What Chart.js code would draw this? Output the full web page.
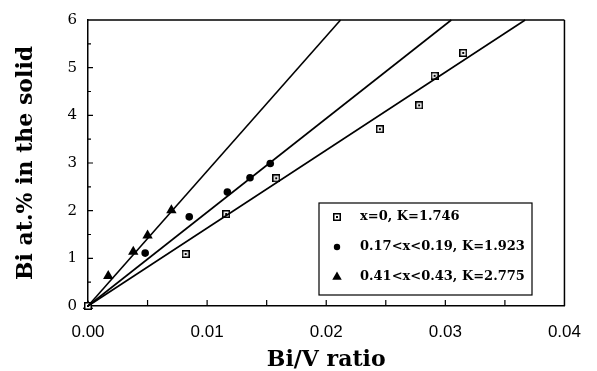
<!DOCTYPE html>
<html><head><meta charset="utf-8">
<script src="https://cdn.jsdelivr.net/npm/chart.js@4"></script>
<style>html,body{margin:0;padding:0;background:#fff}#wrap{width:597px;height:371px;position:relative}</style>
</head><body><div id="wrap"><canvas id="c"></canvas></div>
<script>
// ---- data ----
const seriesLabels = ['x=0, K=1.746', '0.17<x<0.19, K=1.923', '0.41<x<0.43, K=2.775'];
const sqX = [0, 0.0082, 0.0116, 0.0158, 0.0245, 0.0278, 0.0291, 0.0315];
const sqY = [0, 1.09, 1.93, 2.68, 3.71, 4.21, 4.83, 5.31];
const ciX = [0, 0.0048, 0.0085, 0.0117, 0.0136, 0.0153];
const ciY = [0, 1.11, 1.87, 2.39, 2.69, 2.99];
const trX = [0, 0.0017, 0.0038, 0.0050, 0.0070];
const trY = [0, 0.63, 1.14, 1.48, 2.01];
const fitStartX = [0, 0, 0];
const fitStartY = [0, 0, 0];
const fitEndX = [0.0367, 0.0305, 0.0212];
const fitEndY = [6, 6, 6];
const xMin = 0, xMax = 0.04, xStep = 0.01, xMinorStep = 0.005;
const yMin = 0, yMax = 6, yStep = 1, yMinorStep = 0.5;
const xTitle = 'Bi/V ratio';
const yTitle = 'Bi at.% in the solid';

function pts(xs, ys){ return xs.map((x,i)=>({x:x, y:ys[i]})); }

function boxDot(){
  const c = document.createElement('canvas'); c.width = 8; c.height = 8;
  const g = c.getContext('2d');
  g.fillStyle = '#000'; g.fillRect(0,0,8,8);
  g.fillStyle = '#fff'; g.fillRect(1.5,1.5,5,5);
  g.fillStyle = '#000'; g.fillRect(3,3,2,2);
  return c;
}
const sqStyle = boxDot();

const serif = "'DejaVu Serif', 'Liberation Serif', serif";

const fitSets = fitEndX.map((ex,i)=>({
  label: 'fit' + i,
  data: [{x: fitStartX[i], y: fitStartY[i]}, {x: ex, y: fitEndY[i]}],
  showLine: true, borderColor: '#000', borderWidth: 1.6,
  pointRadius: 0, pointHoverRadius: 0, fill: false, clip: false
}));

const markerSets = [
  {label: seriesLabels[0], data: pts(sqX, sqY), pointStyle: sqStyle, pointRadius: 4,
   backgroundColor: '#000', borderColor: '#000', clip: false},
  {label: seriesLabels[1], data: pts(ciX, ciY), pointStyle: 'circle', pointRadius: 3.8,
   backgroundColor: '#000', borderColor: '#000', borderWidth: 0, clip: false},
  {label: seriesLabels[2], data: pts(trX, trY), pointStyle: 'triangle', pointRadius: 6,
   backgroundColor: '#000', borderColor: '#000', borderWidth: 0, clip: false}
];

const framePlugin = {
  id: 'frame',
  beforeDatasetsDraw(chart){
    const {ctx, chartArea:a, scales:{x, y}} = chart;
    ctx.save();
    ctx.strokeStyle = '#000';
    ctx.lineWidth = 1.5;
    ctx.beginPath();
    ctx.moveTo(a.left, a.top); ctx.lineTo(a.right, a.top);
    ctx.moveTo(a.right, a.top); ctx.lineTo(a.right, a.bottom);
    ctx.stroke();
    ctx.lineWidth = 1.2;
    ctx.beginPath();
    for (let v = xMin + xMinorStep; v < xMax - 1e-9; v += xMinorStep){
      const px = x.getPixelForValue(v);
      ctx.moveTo(px, a.bottom); ctx.lineTo(px, a.bottom - 6);
    }
    for (let v = yMin + yMinorStep; v < yMax - 1e-9; v += yMinorStep){
      const py = y.getPixelForValue(v);
      const major = Math.abs(v - Math.round(v)) < 1e-9;
      ctx.moveTo(a.left, py); ctx.lineTo(a.left + (major ? 5 : 3), py);
    }
    ctx.stroke();
    ctx.restore();
  },
  afterDraw(chart){
    const ctx = chart.ctx;
    const L = 319, T = 203, R = 532, B = 295;
    ctx.save();
    ctx.fillStyle = '#fff';
    ctx.fillRect(L, T, R - L, B - T);
    ctx.strokeStyle = '#000'; ctx.lineWidth = 1.2;
    ctx.strokeRect(L, T, R - L, B - T);
    const rows = [217, 247, 277];
    ctx.font = "bold 13px " + serif;
    ctx.textBaseline = 'middle'; ctx.textAlign = 'left';
    markerSets.forEach((ds, i) => {
      Chart.helpers.drawPoint(ctx, {
        pointStyle: ds.pointStyle, radius: ds.pointStyle === 'triangle' ? 5.5 : (ds.pointStyle === 'circle' ? 3.2 : 4),
        rotation: 0, borderWidth: 0
      }, 337, rows[i]);
      ctx.fillStyle = '#000';
      ctx.fillText(ds.label, 360, rows[i]);
    });
    ctx.restore();
  }
};

new Chart(document.getElementById('c'), {
  type: 'scatter',
  data: { datasets: [...fitSets, ...markerSets] },
  options: {
    responsive: true, maintainAspectRatio: false, animation: false,
    layout: { padding: { top: 16, right: 25, left: 0, bottom: 0 } },
    plugins: { legend: { display: false }, tooltip: { enabled: false } },
    scales: {
      x: {
        type: 'linear', min: xMin, max: xMax,
        ticks: { stepSize: xStep, padding: 16, color: '#000',
          font: { family: "'Liberation Sans', Arial, sans-serif", size: 17 },
          callback: v => Number(v).toFixed(2) },
        grid: { drawOnChartArea: false, drawTicks: false },
        border: { display: true, color: '#000', width: 1.5 },
        title: { display: true, text: xTitle, color: '#000',
          font: { family: serif, size: 22, weight: 'bold', lineHeight: 1 },
          padding: { top: 0, bottom: 0 } },
        afterFit(s){ s.height = 65; }
      },
      y: {
        type: 'linear', min: yMin, max: yMax,
        ticks: { stepSize: yStep, padding: 11, color: '#000',
          font: { family: serif, size: 15 } },
        grid: { drawOnChartArea: false, drawTicks: false },
        border: { display: true, color: '#000', width: 1.5 },
        title: { display: true, text: yTitle, color: '#000',
          font: { family: serif, size: 22, weight: 'bold', lineHeight: 1 },
          padding: { top: 15, bottom: 0 } },
        afterFit(s){ s.width = 88; }
      }
    }
  },
  plugins: [framePlugin]
});
</script>
</body></html>
